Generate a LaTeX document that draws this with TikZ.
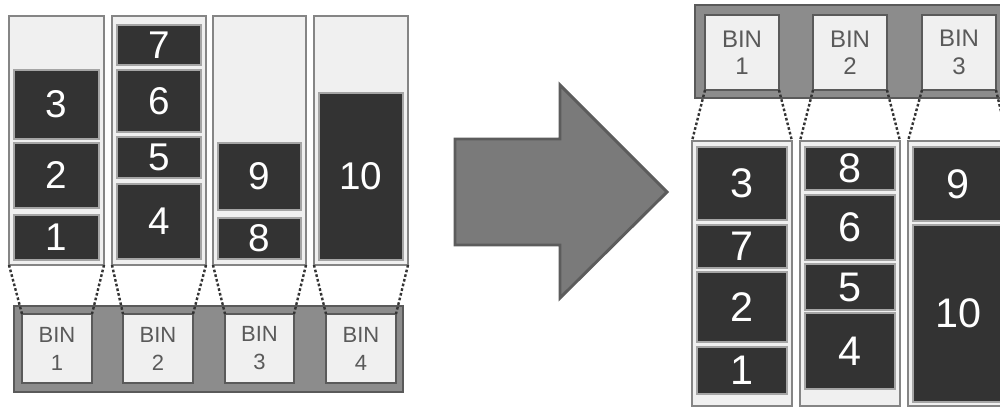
\documentclass[tikz,border=0pt]{standalone}
\usepackage{fontspec}
\setmainfont{Liberation Sans}
\begin{document}
\begin{tikzpicture}[x=0.75pt,y=-0.75pt,
  column/.style={draw=colgray,line width=1.6pt,fill=lightfill,inner sep=0pt,outer sep=0pt},
  block/.style={draw=edgegray,line width=0.8pt,fill=darkfill,inner sep=0pt,outer sep=0pt,
                text=white,font=\fontsize{29}{29}\selectfont},
  rblock/.style={block,font=\fontsize{31}{31}\selectfont},
  bar/.style={draw=bordergray,line width=1.6pt,fill=bargray,inner sep=0pt,outer sep=0pt},
  bin/.style={draw=bordergray,line width=1.8pt,fill=lightfill,inner sep=0pt,outer sep=0pt,
              text=textgray,align=center,font=\fontsize{16.5}{21}\selectfont},
  rbin/.style={bin,font=\fontsize{18}{20.5}\selectfont},
  dotline/.style={draw=darkfill,line width=1.8pt,dash pattern=on 2pt off 1.6pt},
  bigarrow/.style={draw=arrowedge,line width=2.2pt,fill=arrowfill,line join=miter}]
\definecolor{lightfill}{HTML}{F0F0F0}
\definecolor{darkfill}{HTML}{333333}
\definecolor{colgray}{HTML}{858585}
\definecolor{edgegray}{HTML}{A5A5A5}
\definecolor{bargray}{HTML}{8C8C8C}
\definecolor{bordergray}{HTML}{5A5A5A}
\definecolor{textgray}{HTML}{5A5A5A}
\definecolor{arrowfill}{HTML}{7A7A7A}
\definecolor{arrowedge}{HTML}{5C5C5C}
% rectangle node given by its corners: name, x1, y1, x2, y2, style, text
\newcommand\rbox[7]{%
  \pgfmathsetmacro\rbW{(#4-#2)*0.75}%
  \pgfmathsetmacro\rbH{(#5-#3)*0.75}%
  \node[#6,minimum width=\rbW pt,minimum height=\rbH pt] (#1) at ({(#2+#4)/2},{(#3+#5)/2}) {#7};}
\useasboundingbox (0,0) rectangle (1000,409);
\clip (0,0) rectangle (1000,409);

% ---- left: four bins filled in order ----
\rbox{L1}{9}{16}{104}{265}{column}{}
\rbox{L2}{112}{16}{206}{265}{column}{}
\rbox{L3}{213}{16}{306}{265}{column}{}
\rbox{L4}{314}{16}{408}{265}{column}{}

\rbox{l3}{14}{70}{99}{139}{block}{3}
\rbox{l2}{14}{143}{99}{208}{block}{2}
\rbox{l1}{14}{215}{99}{260}{block}{1}

\rbox{l7}{117}{25}{201}{65}{block}{7}
\rbox{l6}{117}{70}{201}{132}{block}{6}
\rbox{l5}{117}{137}{201}{178}{block}{5}
\rbox{l4}{117}{184}{201}{259}{block}{4}

\rbox{l9}{218}{143}{301}{210}{block}{9}
\rbox{l8}{218}{218}{301}{259}{block}{8}

\rbox{l10}{319}{93}{403}{260}{block}{10}

\rbox{LB}{14}{306}{403}{392}{bar}{}
\rbox{B1}{22}{314}{92}{383}{bin}{BIN\\1}
\rbox{B2}{123}{314}{193}{383}{bin}{BIN\\2}
\rbox{B3}{225}{314}{294}{383}{bin}{BIN\\3}
\rbox{B4}{326}{314}{396}{383}{bin}{BIN\\4}

\foreach \c/\b in {L1/B1,L2/B2,L3/B3,L4/B4}{
  \draw[dotline] (\c.south west) -- (\b.north west);
  \draw[dotline] (\c.south east) -- (\b.north east);
}

% ---- big arrow ----
\draw[bigarrow] (455,139) -- (560,139) -- (560,85) -- (667,192) -- (560,298)
  -- (560,245) -- (455,245) -- cycle;

% ---- right: three bins after repacking ----
\rbox{RB}{695}{5}{1012}{98}{bar}{}
\rbox{C1}{705}{15}{779}{90}{rbin}{BIN\\1}
\rbox{C2}{813}{15}{887}{90}{rbin}{BIN\\2}
\rbox{C3}{922}{15}{996}{90}{rbin}{BIN\\3}

\rbox{R1}{692}{141}{792}{406}{column}{}
\rbox{R2}{800}{141}{900}{406}{column}{}
\rbox{R3}{908}{141}{1008}{406}{column}{}

\rbox{r3}{697}{147}{787}{220}{rblock}{3}
\rbox{r7}{697}{225}{787}{268}{rblock}{7}
\rbox{r2}{697}{272}{787}{342}{rblock}{2}
\rbox{r1}{697}{347}{787}{394}{rblock}{1}

\rbox{r8}{805}{147}{895}{190}{rblock}{8}
\rbox{r6}{805}{195}{895}{260}{rblock}{6}
\rbox{r5}{805}{264}{895}{310}{rblock}{5}
\rbox{r4}{805}{313}{895}{389}{rblock}{4}

\rbox{r9}{913}{147}{1003}{221}{rblock}{9}
\rbox{r10}{913}{225}{1003}{402}{rblock}{10}

\foreach \b/\c in {C1/R1,C2/R2,C3/R3}{
  \draw[dotline] (\b.south west) -- (\c.north west);
  \draw[dotline] (\b.south east) -- (\c.north east);
}
\end{tikzpicture}
\end{document}
